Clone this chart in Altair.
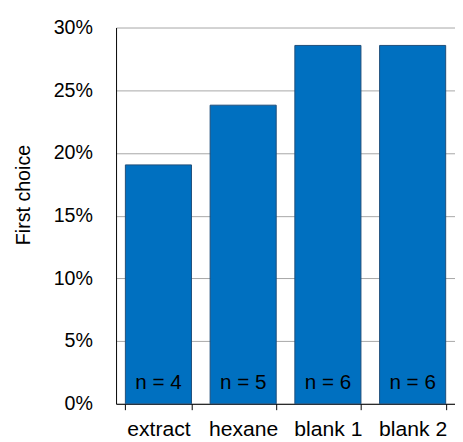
import altair as alt
import pandas as pd

categories = ["extract", "hexane", "blank 1", "blank 2"]
counts = [4, 5, 6, 6]
total = 21
shares = [c / total for c in counts]
labels = [f"n = {c}" for c in counts]

df = pd.DataFrame({"cat": categories, "share": shares, "label": labels})

FONT = "Liberation Sans"

x = alt.X("cat:N", sort=categories, title=None,
          scale=alt.Scale(paddingInner=0.22, paddingOuter=0.11),
          axis=alt.Axis(labelAngle=0, labelFontSize=21.5, labelFont=FONT, labelColor="black",
                        domainColor="black", tickColor="black", tickSize=6, tickBand="extent",
                        labelPadding=9))

bars = alt.Chart(df).mark_bar(color="#0070C0", stroke="#1F4E79", strokeWidth=1).encode(
    x=x,
    y=alt.Y("share:Q", title="First choice",
            scale=alt.Scale(domain=[0, 0.30], nice=False),
            axis=alt.Axis(format=".0%", values=[0, 0.05, 0.10, 0.15, 0.20, 0.25, 0.30],
                          labelFontSize=20, labelFont=FONT, labelColor="black",
                          titleFontSize=20, titleFont=FONT, titleFontWeight="normal",
                          titleColor="black", titlePadding=20, titleY=170,
                          domainColor="black", ticks=False, labelPadding=24,
                          grid=True, gridColor="#A6A6A6", gridWidth=1)),
)

text = alt.Chart(df).mark_text(baseline="alphabetic", dy=-15, fontSize=21, font=FONT, color="black").encode(
    x=alt.X("cat:N", sort=categories),
    y=alt.datum(0),
    text="label:N",
)

chart = (bars + text).properties(
    width=345, height=383,
    autosize="none",
    padding={"left": 110, "top": 16, "right": 0, "bottom": 35},
).configure_view(stroke=None).configure_axisX(grid=False)

chart.save("out.html", embed_options={"renderer": "svg", "actions": False})
